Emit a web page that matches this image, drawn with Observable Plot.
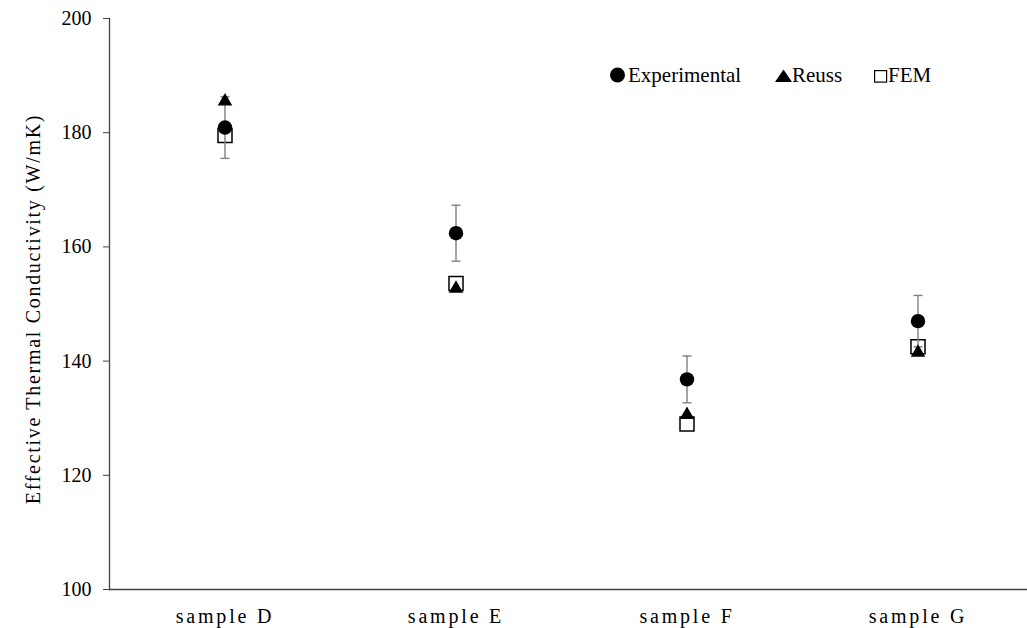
<!DOCTYPE html>
<html>
<head>
<meta charset="utf-8">
<script src="https://cdn.jsdelivr.net/npm/d3@7"></script>
<script src="https://cdn.jsdelivr.net/npm/@observablehq/plot@0.6"></script>
<style>
  html, body { margin: 0; padding: 0; background: #fff; }
  #wrap { position: relative; width: 1027px; height: 628px; }
  g[aria-label="x-axis tick label"] text { letter-spacing: 2.8px; }
  g[aria-label="text"] text { letter-spacing: 1.7px; }
  #legend { position: absolute; left: 0; top: 0; pointer-events: none; }
</style>
</head>
<body>
<div id="wrap"></div>
<script>
const categories = ["sample D", "sample E", "sample F", "sample G"];
const experimental = [180.9, 162.4, 136.8, 147.0];
const experimentalError = [5.4, 4.9, 4.1, 4.5];
const reuss = [185.5, 152.7, 130.6, 141.5];
const fem = [179.5, 153.6, 129.0, 142.5];
const yTicks = [100, 120, 140, 160, 180, 200];
const yLabel = "Effective Thermal Conductivity (W/mK)";
const seriesNames = ["Experimental", "Reuss", "FEM"];

const rows = categories.map((c, i) => ({
  cat: c,
  exp: experimental[i],
  lo: experimental[i] - experimentalError[i],
  hi: experimental[i] + experimentalError[i],
  reuss: reuss[i],
  fem: fem[i]
}));

const capSymbol = {
  draw(ctx, size) {
    const r = Math.sqrt(size / Math.PI);
    ctx.moveTo(-r, 0);
    ctx.lineTo(r, 0);
  }
};

const axisColor = "#444";
const serif = "Liberation Serif, Times New Roman, serif";

const chart = Plot.plot({
  width: 1027,
  height: 628,
  marginTop: 18,
  marginBottom: 39,
  marginLeft: 109,
  marginRight: 0,
  style: { fontFamily: serif, background: "#fff", color: "#000" },
  x: { type: "band", domain: categories, range: [109, 1033], padding: 0, align: 0.5, label: null },
  y: { domain: [100, 200], label: null },
  marks: [
    Plot.frame({ anchor: "left", stroke: axisColor, strokeWidth: 1.3 }),
    Plot.ruleY([100], { stroke: axisColor, strokeWidth: 1.3 }),
    Plot.axisY({ ticks: yTicks, tickSize: 6, tickPadding: 12, fontSize: 20, stroke: axisColor, label: null }),
    Plot.axisX({ tickSize: 0, tickPadding: 19, fontSize: 20, label: null }),
    Plot.text([yLabel], { frameAnchor: "left", textAnchor: "middle", text: d => d, rotate: -90, dx: -76, dy: 5, fontSize: 20, lineAnchor: "middle" }),
    // FEM (open squares)
    Plot.dot(rows, { x: "cat", y: "fem", symbol: "square", r: 7.9, fill: "none", stroke: "#000", strokeWidth: 1.5 }),
    // error bars of experimental
    Plot.ruleX(rows, { x: "cat", y1: "lo", y2: "hi", stroke: "#808080", strokeWidth: 1.4 }),
    Plot.dot(rows, { x: "cat", y: "lo", symbol: capSymbol, r: 4.5, stroke: "#808080", strokeWidth: 1.4, fill: "none" }),
    Plot.dot(rows, { x: "cat", y: "hi", symbol: capSymbol, r: 4.5, stroke: "#808080", strokeWidth: 1.4, fill: "none" }),
    // Experimental (filled circles)
    Plot.dot(rows, { x: "cat", y: "exp", symbol: "circle", r: 7.2, fill: "#000", stroke: "none" }),
    // Reuss (filled triangles)
    Plot.dot(rows, { x: "cat", y: "reuss", symbol: "triangle", r: 5.4, fill: "#000", stroke: "none" })
  ]
});
const wrap = document.getElementById("wrap");
wrap.appendChild(chart);

// Legend overlay (SVG, same serif font as the chart)
const ns = "http://www.w3.org/2000/svg";
const leg = document.createElementNS(ns, "svg");
leg.setAttribute("id", "legend");
leg.setAttribute("width", "1027");
leg.setAttribute("height", "110");
leg.setAttribute("font-family", serif);
leg.setAttribute("font-size", "21");
leg.innerHTML =
  '<circle cx="617.5" cy="75" r="7.5" fill="#000"/>' +
  '<text x="628" y="82">' + seriesNames[0] + '</text>' +
  '<path d="M783.5,69.5 L792,82 L775,82 Z" fill="#000"/>' +
  '<text x="792" y="82">' + seriesNames[1] + '</text>' +
  '<rect x="874.6" y="70.6" width="12" height="11.5" fill="#fff" stroke="#000" stroke-width="1.2"/>' +
  '<text x="888" y="82">' + seriesNames[2] + '</text>';
wrap.appendChild(leg);
</script>
</body>
</html>
